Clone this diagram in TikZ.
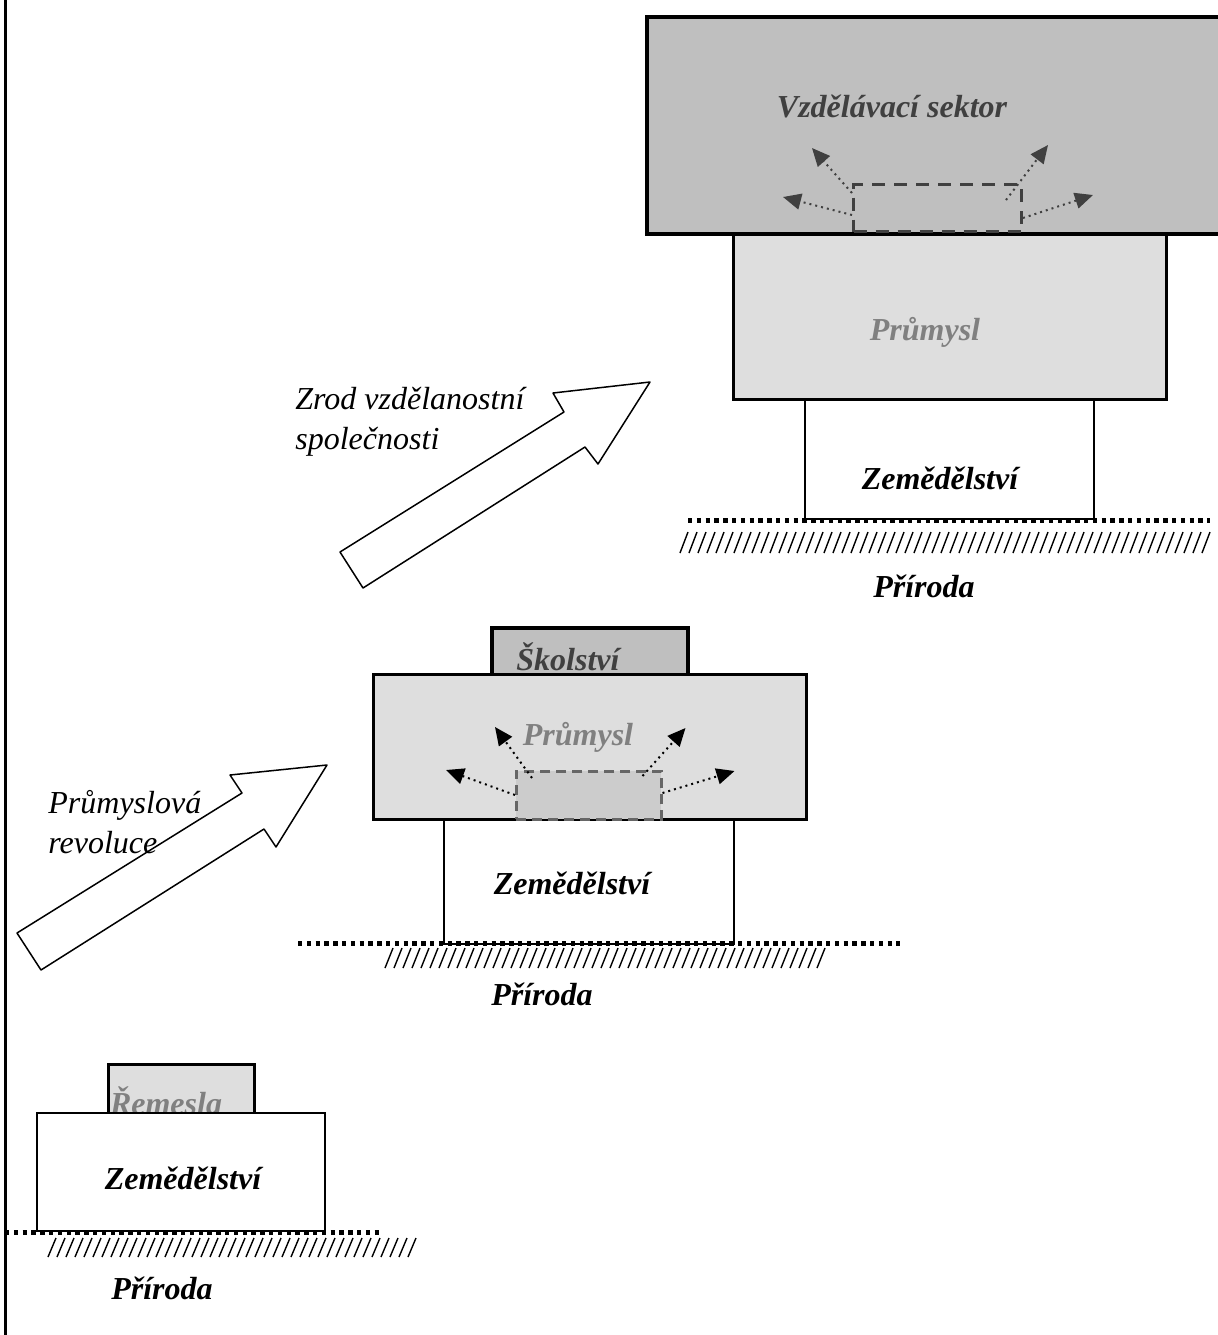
\documentclass[tikz,border=0pt]{standalone}
\usepackage{fontspec}
\setmainfont{Liberation Serif}
\usepackage{tikz}
\usepackage{tkz-euclide}
\usetikzlibrary{arrows.meta}

\tikzset{
	blok/.style={draw, rectangle, fill=white, anchor=north west, inner sep=0pt},
	popis/.style={font=\fontsize{16}{20}\selectfont\bfseries\itshape, inner sep=0pt, anchor=base},
	komentar/.style={font=\fontsize{16}{20}\selectfont\itshape, inner sep=0pt, align=left, anchor=west},
	sip/.style={dotted, line width=1pt, -{Triangle[length=9pt,width=8pt]}},
	puda/.style={line width=2.5pt, dash pattern=on 2.2pt off 2.2pt},
	srafa/.style={line width=0.7pt},
}

\begin{document}
\begin{tikzpicture}[x=0.5pt, y=-0.5pt]
	\useasboundingbox (0,0) rectangle (1218,1335);
	\clip (0,0) rectangle (1218,1335);
	\draw[line width=1.5pt] (5,0) -- (5,1335);

	\node[blok, line width=1pt, minimum width=144.5pt, minimum height=60pt] (zem3) at (804,398) {};
	\node[blok, fill=black!13, line width=1.25pt, minimum width=216.5pt, minimum height=83pt] (pru3) at (732,232) {};
	\node[blok, fill=black!25, line width=2pt, minimum width=297.5pt, minimum height=108.5pt] (vzd3) at (645,15) {};
	\node[blok, fill=none, draw=black!75, dash pattern=on 6.5pt off 4.5pt, line width=1.5pt, minimum width=84pt, minimum height=23.5pt] (jadro3) at (852,183) {};
	\node[popis, text=black!75] (tvzd3) at (892,117) {Vzdělávací sektor};
	\node[popis, text=black!50] (tpru3) at (925,340) {Průmysl};
	\node[popis] (tzem3) at (940,489) {Zemědělství};
	\node[popis] (tpri3) at (924,597) {Příroda};
	\draw[sip, black!75] ([yshift=-5pt]jadro3.north west) -- ++(-40,-45) coordinate (v1);
	\draw[sip, black!75] ([yshift=-16pt]jadro3.north west) -- ++(-69,-18) coordinate (v2);
	\draw[sip, black!75] ([xshift=-8.5pt,yshift=-8.5pt]jadro3.north east) -- ++(42,-55) coordinate (v3);
	\draw[sip, black!75] ([yshift=-17.5pt]jadro3.north east) -- ++(70,-23) coordinate (v4);
	\draw[puda] (688,520) -- (1210,520);
	\foreach \x in {680,689,...,1205} \draw[srafa] (\x,553) -- ++(8,-21);

	\node[blok, fill=black!25, line width=2pt, minimum width=98pt, minimum height=23.5pt] (skol2) at (490,626) {};
	\node[popis, text=black!75] (tskol2) at (568,670) {Školství};
	\node[blok, line width=1pt, minimum width=145pt, minimum height=62.5pt] (zem2) at (443,818) {};
	\node[blok, fill=black!13, line width=1.5pt, minimum width=216.5pt, minimum height=72.5pt] (pru2) at (372,673) {};
	\node[blok, fill=black!20, draw=black!60, dash pattern=on 5pt off 3pt, line width=1.25pt, minimum width=72.5pt, minimum height=24pt] (jadro2) at (515,770) {};
	\node[popis, text=black!50] (tpru2) at (578,745) {Průmysl};
	\node[popis] (tzem2) at (572,894) {Zemědělství};
	\node[popis] (tpri2) at (542,1005) {Příroda};
	\draw[sip] ([xshift=8.5pt,yshift=-4pt]jadro2.north west) -- ++(-37,-51) coordinate (p1);
	\draw[sip] ([yshift=-12.5pt]jadro2.north west) -- ++(-69,-25) coordinate (p2);
	\draw[sip] ([xshift=-10pt,yshift=-3pt]jadro2.north east) -- ++(43,-48) coordinate (p3);
	\draw[sip] ([yshift=-11.5pt]jadro2.north east) -- ++(72,-22) coordinate (p4);
	\draw[puda] (298,943) -- (900,943);
	\foreach \x in {385,394,...,820} \draw[srafa] (\x,968) -- ++(8,-20);

	\node[blok, fill=black!13, line width=1.5pt, minimum width=73pt, minimum height=24.5pt] (rem1) at (107,1063) {};
	\node[popis, text=black!50] (trem1) at (166,1114) {Řemesla};
	\node[blok, line width=1pt, minimum width=144pt, minimum height=59pt] (zem1) at (36,1112) {};
	\node[popis] (tzem1) at (183,1189) {Zemědělství};
	\node[popis] (tpri1) at (162,1299) {Příroda};
	\draw[puda] (5,1232) -- (380,1232);
	\foreach \x in {48,57,...,414} \draw[srafa] (\x,1257) -- ++(8,-19);

	\tkzDefPoint(17,933){A};
	\tkzDefPoint(242,793){B};
	\tkzDefPoint(230,775){C};
	\tkzDefPoint(327,765){D};
	\tkzDefPoint(276,847){E};
	\tkzDefPoint(264,829){F};
	\tkzDefPoint(41,970){G};
	\tkzDrawPolygon[fill=white, line width=0.75pt](A,B,C,D,E,F,G);
	\node[komentar] (trev) at (48,822) {Průmyslová\\revoluce};

	\tkzDefPoint(340,552){H};
	\tkzDefPoint(564,412){I};
	\tkzDefPoint(553,393){J};
	\tkzDefPoint(650,382){K};
	\tkzDefPoint(598,464){L};
	\tkzDefPoint(585,447){M};
	\tkzDefPoint(363,588){N};
	\tkzDrawPolygon[fill=white, line width=0.75pt](H,I,J,K,L,M,N);
	\node[komentar] (tzrod) at (295,422) {Zrod vzdělanostní\\společnosti};
\end{tikzpicture}
\end{document}
